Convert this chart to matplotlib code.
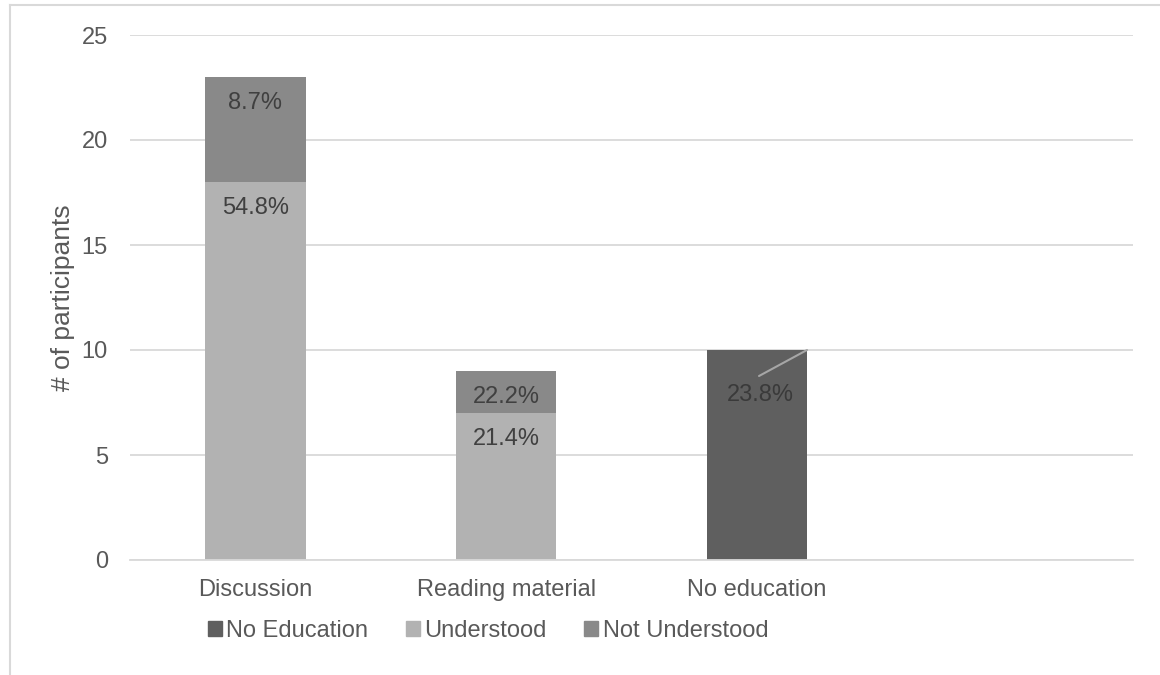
import matplotlib
matplotlib.use("Agg")
import matplotlib.pyplot as plt
from matplotlib.patches import Patch
from matplotlib.lines import Line2D

plt.rcParams['font.family'] = ['Liberation Sans', 'DejaVu Sans']

# participants per education group
groups = ['Discussion', 'Reading material', 'No education', '']
understood = [18, 7, 0, 0]
not_understood = [5, 2, 0, 0]
no_education = [0, 0, 10, 0]

# data labels shown on the bars
understood_labels = ['54.8%', '21.4%', '', '']
not_understood_labels = ['8.7%', '22.2%', '', '']
no_education_labels = ['', '', '23.8%', '']

c_none = '#5f5f5f'
c_under = '#b2b2b2'
c_not = '#898989'
grid_c = '#d9d9d9'
text_c = '#595959'
label_c = '#404040'
fs = 17

fig = plt.figure(figsize=(11.6, 6.75), dpi=100)
ax = fig.add_axes([130 / 1160, 1 - 560 / 675, (1133 - 130) / 1160, (560 - 35) / 675])

x = range(len(groups))
w = 0.4
ax.bar(x, no_education, w, color=c_none, zorder=2)
ax.bar(x, understood, w, color=c_under, zorder=2)
ax.bar(x, not_understood, w, bottom=understood, color=c_not, zorder=2)

# labels sit just inside the top of each segment
for i in x:
    if understood_labels[i]:
        ax.annotate(understood_labels[i], xy=(i, understood[i]), xytext=(0, -26),
                    textcoords='offset pixels', ha='center', va='center',
                    fontsize=fs, color=label_c, zorder=3)
    if not_understood_labels[i]:
        ax.annotate(not_understood_labels[i], xy=(i, understood[i] + not_understood[i]),
                    xytext=(0, -26), textcoords='offset pixels', ha='center',
                    va='center', fontsize=fs, color=label_c, zorder=3)
    if no_education_labels[i]:
        ax.annotate(no_education_labels[i], xy=(i, no_education[i]), xytext=(3, -45),
                    textcoords='offset pixels', ha='center', va='center',
                    fontsize=fs, color='#3a3a3a', zorder=3)
        # leader line from the moved label back to the bar corner
        ax.annotate('', xy=(i + w / 2, no_education[i]), xytext=(-48, -26),
                    textcoords='offset pixels',
                    arrowprops=dict(arrowstyle='-', color='#a6a6a6', lw=1.5,
                                    shrinkA=0, shrinkB=0), zorder=3)

ax.set_xlim(-0.5, len(groups) - 0.5)
ax.set_ylim(0, 25)
ax.set_yticks(range(0, 26, 5))
ax.set_xticks(list(x))
ax.set_xticklabels(groups)
ax.yaxis.grid(True, color=grid_c, lw=1.3, zorder=0)
ax.set_axisbelow(True)
for s in ['top', 'right', 'left']:
    ax.spines[s].set_visible(False)
ax.spines['bottom'].set_color(grid_c)
ax.spines['bottom'].set_linewidth(1.3)
ax.tick_params(axis='both', length=0, labelsize=fs, labelcolor=text_c)
ax.tick_params(axis='y', pad=16)
ax.tick_params(axis='x', pad=14)
ax.set_ylabel('# of participants', fontsize=19, color=text_c, labelpad=5)

handles = [Patch(color=c_none, label='No Education'),
           Patch(color=c_under, label='Understood'),
           Patch(color=c_not, label='Not Understood')]
fig.legend(handles=handles, loc='center', bbox_to_anchor=(488 / 1160, 1 - 631 / 675),
           ncol=3, frameon=False, fontsize=fs, labelcolor=text_c,
           handlelength=0.6, handleheight=0.6, handletextpad=0.2, columnspacing=1.57)

# chart area border (top and left edges)
fig.add_artist(Line2D([10 / 1160, 10 / 1160], [0, 1 - 5 / 675], color=grid_c, lw=1.5))
fig.add_artist(Line2D([10 / 1160, 1], [1 - 5 / 675, 1 - 5 / 675], color=grid_c, lw=1.5))

fig.savefig('out.png', dpi=100)
